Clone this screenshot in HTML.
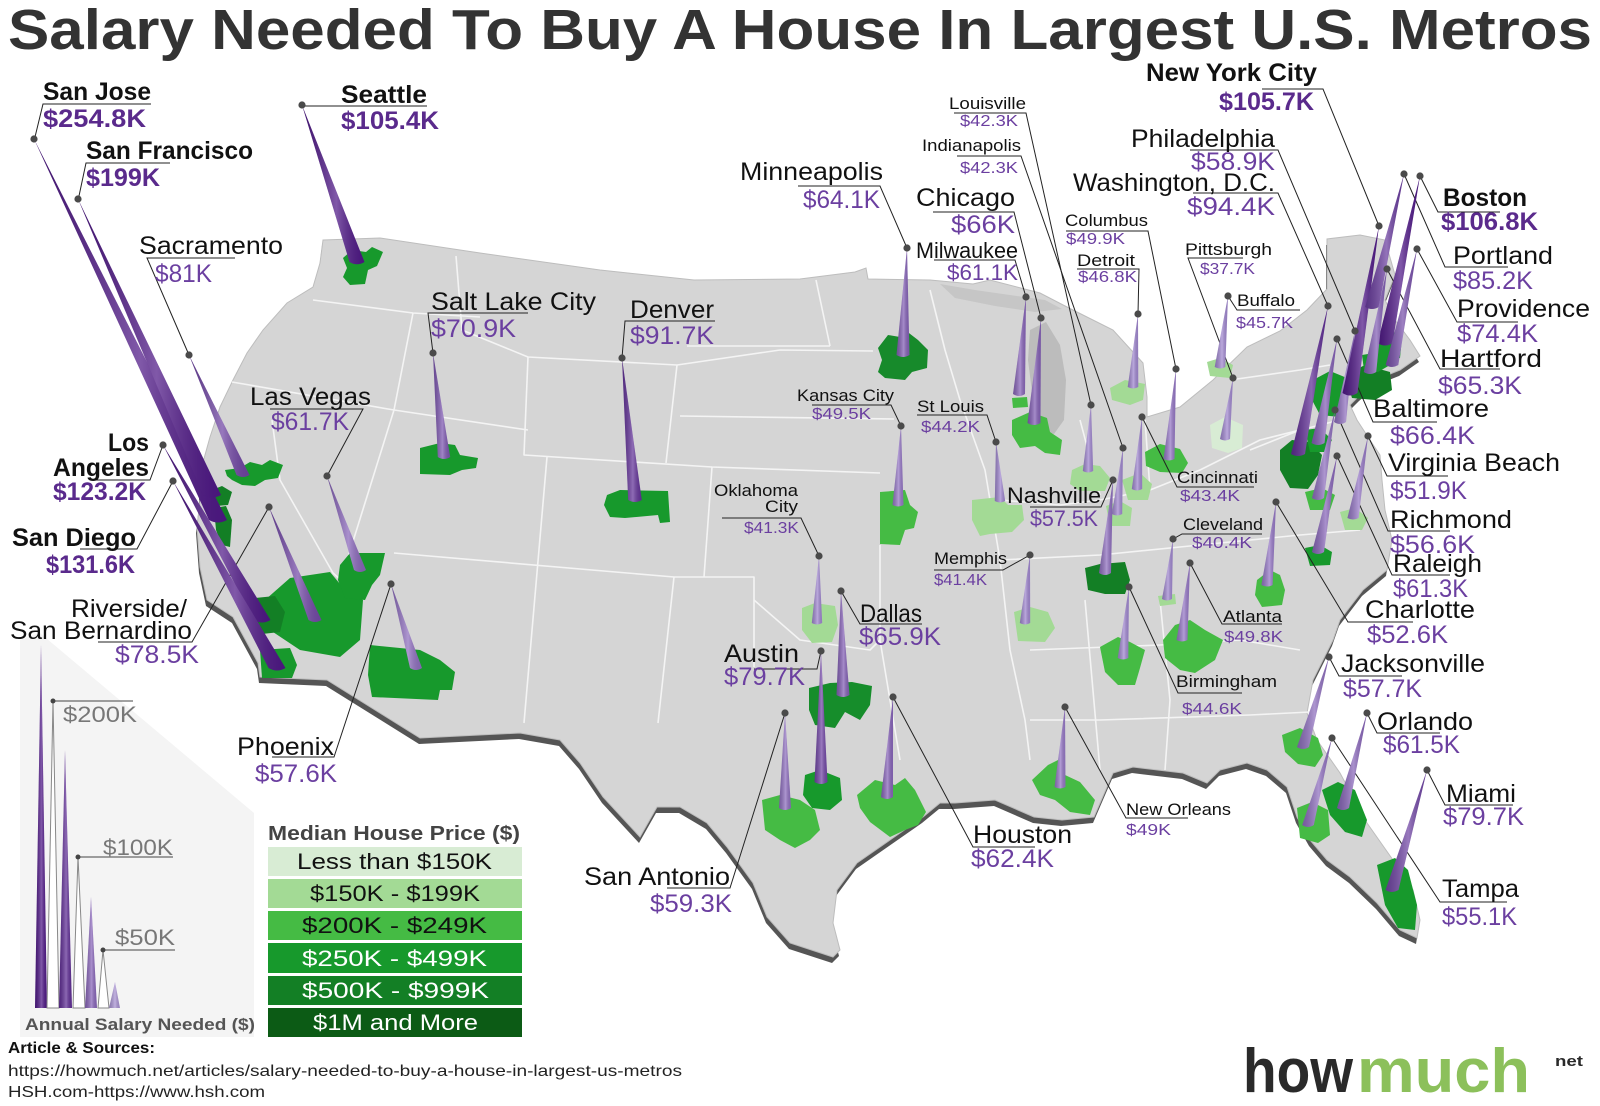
<!DOCTYPE html>
<html><head><meta charset="utf-8"><style>
html,body{margin:0;padding:0;background:#fff;}
svg{display:block;font-family:"Liberation Sans",Arial,sans-serif;}
.t{font-weight:bold;font-size:57px;fill:#333;}
.b{font-weight:bold;font-size:25px;fill:#111;}
.bv{font-weight:bold;font-size:25px;fill:#5a2a8c;}
.n{font-size:25px;fill:#111;}
.v{font-size:25px;fill:#6b3fa0;}
.m{font-size:22px;fill:#111;}
.mv{font-size:22px;fill:#6b3fa0;}
.s{font-size:17px;fill:#111;}
.sv{font-size:16px;fill:#6b3fa0;}
.lg{font-size:22px;fill:#111;}
.lw{font-size:22px;fill:#fff;}
.gk{font-size:22px;fill:#777;}
</style></head><body>
<svg width="1600" height="1106" viewBox="0 0 1600 1106" xmlns="http://www.w3.org/2000/svg">
<defs>
<linearGradient id="hl" x1="0" y1="0" x2="1" y2="0">
<stop offset="0" stop-color="#000" stop-opacity="0.18"/>
<stop offset="0.55" stop-color="#fff" stop-opacity="0.28"/>
<stop offset="1" stop-color="#000" stop-opacity="0.08"/>
</linearGradient>
</defs>
<rect width="1600" height="1106" fill="#fff"/>

<text class="t" x="8" y="49" textLength="1584" lengthAdjust="spacingAndGlyphs">Salary Needed To Buy A House In Largest U.S. Metros</text>

<!-- legend panel -->
<polygon points="20,640 40,633 254,813 254,1037 20,1037" fill="#f4f4f4"/>

<!-- map -->
<g id="map">
<polygon transform="translate(-1,6)" fill="#555" points="323,240 380,238 480,253 600,270 694,280 800,279 855,272 866,268 868,279 930,280 973,284 990,280 1040,293 1067,307 1113,330 1143,363 1147,397 1147,417 1180,407 1213,380 1247,347 1280,331 1307,310 1327,289 1327,239 1360,235 1385,240 1395,275 1385,300 1395,320 1410,340 1420,356 1400,370 1380,378 1360,395 1350,405 1357,420 1370,440 1380,455 1382,480 1385,510 1392,540 1387,570 1363,590 1340,620 1333,640 1313,680 1307,713 1317,740 1340,773 1367,823 1393,860 1413,890 1420,920 1417,938 1400,930 1377,903 1350,877 1327,860 1310,840 1297,817 1287,787 1267,770 1247,763 1220,770 1207,783 1183,773 1133,767 1113,773 1094,817 1062,820 1034,817 995,800 955,803 940,803 923,817 890,840 857,863 837,890 833,923 840,950 833,957 790,943 767,917 753,883 727,847 707,823 680,807 657,807 640,837 603,797 580,763 560,740 520,733 420,738 327,680 260,677 258,663 233,617 207,600 200,567 197,527 200,500 200,473 210,437 220,407 233,380 247,353 263,330 287,303 313,287 320,263"/>
<polygon fill="#d5d5d5" stroke="#bdbdbd" stroke-width="1" points="323,240 380,238 480,253 600,270 694,280 800,279 855,272 866,268 868,279 930,280 973,284 990,280 1040,293 1067,307 1113,330 1143,363 1147,397 1147,417 1180,407 1213,380 1247,347 1280,331 1307,310 1327,289 1327,239 1360,235 1385,240 1395,275 1385,300 1395,320 1410,340 1420,356 1400,370 1380,378 1360,395 1350,405 1357,420 1370,440 1380,455 1382,480 1385,510 1392,540 1387,570 1363,590 1340,620 1333,640 1313,680 1307,713 1317,740 1340,773 1367,823 1393,860 1413,890 1420,920 1417,938 1400,930 1377,903 1350,877 1327,860 1310,840 1297,817 1287,787 1267,770 1247,763 1220,770 1207,783 1183,773 1133,767 1113,773 1094,817 1062,820 1034,817 995,800 955,803 940,803 923,817 890,840 857,863 837,890 833,923 840,950 833,957 790,943 767,917 753,883 727,847 707,823 680,807 657,807 640,837 603,797 580,763 560,740 520,733 420,738 327,680 260,677 258,663 233,617 207,600 200,567 197,527 200,500 200,473 210,437 220,407 233,380 247,353 263,330 287,303 313,287 320,263"/>
<polygon fill="#c6c6c6" points="940,284 975,290 1010,295 1045,300 1062,309 1035,312 995,306 955,298"/>
<polygon fill="#bcbcbc" points="1030,330 1046,322 1060,345 1066,380 1064,420 1054,434 1040,430 1033,400 1028,360"/>
<g stroke="#f4f4f4" stroke-width="1.6" fill="none" stroke-linejoin="round">
<path d="M313,300 L413,313 L480,317"/>
<path d="M413,313 L394,410"/>
<path d="M232,382 L394,410 L528,430"/>
<path d="M394,410 L345,567"/>
<path d="M272,420 L280,480 L333,573 L352,590"/>
<path d="M456,256 L462,330 L528,357 L677,365 L780,350 L873,351"/>
<path d="M528,357 L524,455 L712,467 L880,473"/>
<path d="M547,457 L524,723"/>
<path d="M677,365 L666,463"/>
<path d="M712,467 L704,577"/>
<path d="M394,553 L674,577 L754,577 L754,667"/>
<path d="M674,577 L658,723"/>
<path d="M680,416 L894,419"/>
<path d="M687,346 L830,346"/>
<path d="M816,280 L830,346"/>
<path d="M754,600 L800,640 L870,650 L880,640"/>
<path d="M880,545 L880,640 L900,760"/>
<path d="M930,290 L945,350 L960,400 L985,470 L1000,560 L1010,650 L1025,720 L1030,760"/>
<path d="M1000,500 L1060,505 L1100,500 L1150,490 L1200,470 L1260,440 L1300,430"/>
<path d="M1000,560 L1100,555 L1200,545 L1300,535 L1360,530"/>
<path d="M1030,650 L1160,645 L1240,640 L1300,650"/>
<path d="M1085,600 L1100,770"/>
<path d="M1160,600 L1170,700 L1165,770"/>
<path d="M1030,720 L1100,720 L1250,715 L1310,712"/>
<path d="M1080,420 L1100,495"/>
<path d="M1145,420 L1150,490"/>
<path d="M1230,380 L1300,370 L1330,365"/>
<path d="M1250,450 L1300,430 L1340,420"/>
</g>
</g>

<!-- green metro regions -->
<g>
<polygon fill="#17992c" points="343,258 352,250 366,252 372,247 383,252 377,266 368,270 365,284 350,285 343,277 347,268"/>
<polygon fill="#17992c" points="225,470 240,468 250,462 262,465 270,460 283,465 278,478 265,480 255,486 242,485 232,480 227,476"/>
<polygon fill="#137f25" points="212,490 222,486 232,492 228,505 216,506"/>
<polygon fill="#137f25" points="214,508 226,506 232,520 230,547 222,545 216,530"/>
<polygon fill="#17992c" points="265,600 290,578 330,572 345,590 363,600 360,640 340,657 300,650 285,640 270,630"/>
<polygon fill="#137f25" points="255,598 275,596 285,612 280,632 262,634 256,620"/>
<polygon fill="#17992c" points="260,650 290,648 297,665 292,678 262,678"/>
<polygon fill="#17992c" points="340,565 350,553 385,553 380,575 372,585 365,600 345,598 338,580"/>
<polygon fill="#17992c" points="370,645 420,650 440,660 455,672 452,690 440,690 438,700 372,697 368,675"/>
<polygon fill="#17992c" points="420,448 440,443 455,445 460,455 478,458 476,468 462,470 450,475 420,474"/>
<polygon fill="#17992c" points="607,495 620,490 668,491 670,522 660,523 658,515 625,518 610,517 604,505"/>
<polygon fill="#178a2b" points="878,348 888,335 900,337 905,330 918,340 928,350 927,368 912,372 905,380 885,378 878,372 882,360"/>
<polygon fill="#45bb44" points="880,492 905,490 910,505 918,512 914,528 905,530 900,545 880,544 880,520"/>
<polygon fill="#a3da95" points="972,500 1000,497 1008,505 1022,505 1024,520 1012,532 990,534 980,536 972,520"/>
<polygon fill="#45bb44" points="1012,420 1030,412 1047,418 1050,432 1062,440 1060,455 1045,453 1035,446 1020,448 1012,435"/>
<polygon fill="#45bb44" points="1012,398 1027,397 1028,407 1013,408"/>
<polygon fill="#a3da95" points="1072,470 1085,464 1100,466 1110,478 1105,491 1080,491 1070,484"/>
<polygon fill="#a3da95" points="1106,506 1120,501 1132,508 1130,526 1110,526"/>
<polygon fill="#45bb44" points="1145,452 1160,444 1180,449 1188,463 1182,473 1160,472 1146,466"/>
<polygon fill="#a3da95" points="1110,388 1125,380 1145,384 1143,400 1130,405 1112,400"/>
<polygon fill="#a3da95" points="1122,480 1140,473 1152,484 1148,500 1128,500"/>
<polygon fill="#d8ecd4" points="1210,425 1225,417 1243,425 1242,448 1228,453 1212,448"/>
<polygon fill="#a3da95" points="1207,362 1220,358 1233,365 1230,378 1210,376"/>
<polygon fill="#137f25" points="1085,568 1100,564 1125,562 1130,580 1125,594 1105,594 1088,590"/>
<polygon fill="#a3da95" points="1014,612 1030,607 1048,612 1055,628 1045,642 1018,641"/>
<polygon fill="#a3da95" points="802,608 815,603 835,606 838,625 832,642 812,643 802,630"/>
<polygon fill="#168d2b" points="809,688 830,683 852,682 872,686 870,705 860,720 845,712 835,728 815,725 809,710"/>
<polygon fill="#17992c" points="805,775 820,770 840,778 842,800 830,810 812,808 803,795"/>
<polygon fill="#45bb44" points="762,800 780,795 800,800 815,810 820,830 810,840 795,848 780,840 765,830"/>
<polygon fill="#45bb44" points="857,795 875,780 895,785 905,778 915,790 926,812 918,825 905,830 890,837 870,822 860,808"/>
<polygon fill="#45bb44" points="1032,780 1048,765 1058,760 1065,775 1080,782 1095,800 1090,815 1070,812 1055,800 1040,795"/>
<polygon fill="#45bb44" points="1100,647 1118,637 1130,642 1145,650 1140,668 1135,685 1118,685 1105,672"/>
<polygon fill="#45bb44" points="1163,640 1175,625 1190,620 1205,630 1223,640 1215,660 1195,673 1180,670 1165,658"/>
<polygon fill="#a3da95" points="1158,596 1175,594 1176,604 1160,606"/>
<polygon fill="#45bb44" points="1257,580 1270,570 1280,575 1285,590 1282,605 1262,607 1255,595"/>
<polygon fill="#17992c" points="1305,548 1320,545 1332,552 1330,565 1310,566"/>
<polygon fill="#45bb44" points="1305,492 1322,488 1335,495 1330,510 1310,510"/>
<polygon fill="#a3da95" points="1340,512 1355,508 1368,518 1362,530 1345,530"/>
<polygon fill="#137f25" points="1280,450 1292,440 1310,442 1322,455 1318,475 1308,489 1290,488 1280,470"/>
<polygon fill="#17992c" points="1305,430 1320,428 1332,440 1325,452 1310,452"/>
<polygon fill="#17992c" points="1313,380 1330,371 1347,378 1348,400 1340,417 1320,415 1312,400"/>
<polygon fill="#137f25" points="1345,375 1365,365 1390,372 1392,390 1375,400 1352,398"/>
<polygon fill="#17992c" points="1372,335 1388,328 1402,338 1400,358 1385,362 1372,352"/>
<polygon fill="#17992c" points="1362,355 1380,352 1390,365 1378,372 1364,370"/>
<polygon fill="#45bb44" points="1282,735 1300,728 1318,738 1323,755 1315,767 1298,764 1285,752"/>
<polygon fill="#17992c" points="1322,790 1338,782 1355,790 1367,820 1362,837 1345,832 1330,815"/>
<polygon fill="#45bb44" points="1297,808 1312,802 1328,810 1330,835 1318,843 1300,838"/>
<polygon fill="#17992c" points="1377,865 1395,858 1408,870 1417,905 1415,930 1398,928 1385,905"/>
</g>

<!-- leader lines and underlines -->
<g stroke="#222" stroke-width="1" fill="none">
<path d="M151,104 L43,104 L35,137"/>
<path d="M170,163 L86,163 L79,196"/>
<path d="M302,106 L427,106"/>
<path d="M235,258 L147,258 L189,355"/>
<path d="M270,409 L363,409 L327,476"/>
<path d="M95,480 L150,480 L163,445"/>
<path d="M80,549 L137,549 L173,481"/>
<path d="M98,642 L192,642 L269,507"/>
<path d="M272,757 L334,757 L391,584"/>
<path d="M528,313 L428,313 L433,353"/>
<path d="M715,321 L625,321 L622,358"/>
<path d="M798,186 L880,186 L907,248"/>
<path d="M933,212 L1014,212 L1041,318"/>
<path d="M934,260 L1015,260 L1026,297"/>
<path d="M954,113 L1026,113 L1091,405"/>
<path d="M957,156 L1021,156 L1123,448"/>
<path d="M1066,231 L1148,231 L1176,369"/>
<path d="M1077,269 L1139,269 L1138,314"/>
<path d="M1243,258 L1188,258 L1233,378"/>
<path d="M1300,310 L1237,310 L1228,296"/>
<path d="M812,405 L891,405 L901,426"/>
<path d="M917,415 L987,415 L996,442"/>
<path d="M722,518 L801,518 L819,556"/>
<path d="M934,570 L1003,570 L1030,555"/>
<path d="M1030,507 L1101,507 L1113,480"/>
<path d="M1254,487 L1177,487 L1142,417"/>
<path d="M1262,534 L1182,534 L1173,539"/>
<path d="M1282,624 L1222,624 L1190,563"/>
<path d="M1242,693 L1178,693 L1129,587"/>
<path d="M1188,818 L1126,818 L1065,707"/>
<path d="M922,624 L860,624 L841,591"/>
<path d="M754,669 L817,669 L821,651"/>
<path d="M667,888 L730,888 L785,713"/>
<path d="M1035,847 L973,847 L893,697"/>
<path d="M1262,89 L1323,89 L1379,226"/>
<path d="M1190,150 L1278,150 L1355,331"/>
<path d="M1193,193 L1278,193 L1328,306"/>
<path d="M1500,212 L1438,212 L1420,176"/>
<path d="M1508,267 L1445,267 L1404,174"/>
<path d="M1518,322 L1457,322 L1417,249"/>
<path d="M1500,369 L1440,369 L1387,269"/>
<path d="M1437,422 L1373,422 L1337,339"/>
<path d="M1448,476 L1387,476 L1368,436"/>
<path d="M1450,531 L1388,531 L1335,410"/>
<path d="M1450,575 L1392,575 L1337,456"/>
<path d="M1413,622 L1348,622 L1276,502"/>
<path d="M1402,676 L1339,676 L1329,657"/>
<path d="M1440,733 L1377,733 L1367,713"/>
<path d="M1513,805 L1445,805 L1427,770"/>
<path d="M1507,902 L1440,902 L1332,738"/>
</g>

<!-- cones -->
<g>
<path fill="#4f1887" d="M34 139 L209 520 Q218 525 227 520Z"/><path fill="url(#hl)" d="M34 139 L209 520 Q218 525 227 520Z"/>
<path fill="#4f1887" d="M78 199 L203 495 Q212 500 221 495Z"/><path fill="url(#hl)" d="M78 199 L203 495 Q212 500 221 495Z"/>
<path fill="#4f1887" d="M302 105 L349.5 262 Q357 266.5 364.5 262Z"/><path fill="url(#hl)" d="M302 105 L349.5 262 Q357 266.5 364.5 262Z"/>
<path fill="#6f44a3" d="M189 355 L236.5 475 Q243 479 249.5 475Z"/><path fill="url(#hl)" d="M189 355 L236.5 475 Q243 479 249.5 475Z"/>
<path fill="#4f1887" d="M163 445 L253.5 620 Q262 625 270.5 620Z"/><path fill="url(#hl)" d="M163 445 L253.5 620 Q262 625 270.5 620Z"/>
<path fill="#4f1887" d="M173 481 L268.5 668 Q277 673 285.5 668Z"/><path fill="url(#hl)" d="M173 481 L268.5 668 Q277 673 285.5 668Z"/>
<path fill="#7349a7" d="M269 507 L308.5 620 Q315 624 321.5 620Z"/><path fill="url(#hl)" d="M269 507 L308.5 620 Q315 624 321.5 620Z"/>
<path fill="#8865b9" d="M327 476 L354 570 Q360 574 366 570Z"/><path fill="url(#hl)" d="M327 476 L354 570 Q360 574 366 570Z"/>
<path fill="#8e6ebe" d="M391 584 L410 668 Q416 672 422 668Z"/><path fill="url(#hl)" d="M391 584 L410 668 Q416 672 422 668Z"/>
<path fill="#7c56af" d="M433 353 L437.8 457 Q444 461 450.2 457Z"/><path fill="url(#hl)" d="M433 353 L437.8 457 Q444 461 450.2 457Z"/>
<path fill="#623298" d="M622 358 L628.2 500 Q635 504 641.8 500Z"/><path fill="url(#hl)" d="M622 358 L628.2 500 Q635 504 641.8 500Z"/>
<path fill="#835fb5" d="M907 248 L896.5 355 Q903 359 909.5 355Z"/><path fill="url(#hl)" d="M907 248 L896.5 355 Q903 359 909.5 355Z"/>
<path fill="#9577c5" d="M901 426 L892.5 505 Q898 508 903.5 505Z"/><path fill="url(#hl)" d="M901 426 L892.5 505 Q898 508 903.5 505Z"/>
<path fill="#a087cf" d="M996 442 L994.8 501 Q1000 504 1005.2 501Z"/><path fill="url(#hl)" d="M996 442 L994.8 501 Q1000 504 1005.2 501Z"/>
<path fill="#835fb5" d="M1041 318 L1027.5 423 Q1034 427 1040.5 423Z"/><path fill="url(#hl)" d="M1041 318 L1027.5 423 Q1034 427 1040.5 423Z"/>
<path fill="#8865b9" d="M1026 297 L1013 394 Q1019 398 1025 394Z"/><path fill="url(#hl)" d="M1026 297 L1013 394 Q1019 398 1025 394Z"/>
<path fill="#a087cf" d="M1091 405 L1082.8 471 Q1088 474 1093.2 471Z"/><path fill="url(#hl)" d="M1091 405 L1082.8 471 Q1088 474 1093.2 471Z"/>
<path fill="#a087cf" d="M1123 448 L1111.8 514 Q1117 517 1122.2 514Z"/><path fill="url(#hl)" d="M1123 448 L1111.8 514 Q1117 517 1122.2 514Z"/>
<path fill="#9577c5" d="M1176 369 L1163.5 459 Q1169 462 1174.5 459Z"/><path fill="url(#hl)" d="M1176 369 L1163.5 459 Q1169 462 1174.5 459Z"/>
<path fill="#a087cf" d="M1138 314 L1127.7 387 Q1133 390 1138.3 387Z"/><path fill="url(#hl)" d="M1138 314 L1127.7 387 Q1133 390 1138.3 387Z"/>
<path fill="#a087cf" d="M1142 417 L1131.8 489 Q1137 492 1142.2 489Z"/><path fill="url(#hl)" d="M1142 417 L1131.8 489 Q1137 492 1142.2 489Z"/>
<path fill="#a087cf" d="M1233 378 L1220 439 Q1225 442 1230 439Z"/><path fill="url(#hl)" d="M1233 378 L1220 439 Q1225 442 1230 439Z"/>
<path fill="#a087cf" d="M1228 296 L1214.7 367 Q1220 370 1225.3 367Z"/><path fill="url(#hl)" d="M1228 296 L1214.7 367 Q1220 370 1225.3 367Z"/>
<path fill="#8e6ebe" d="M1113 480 L1099 573 Q1105 577 1111 573Z"/><path fill="url(#hl)" d="M1113 480 L1099 573 Q1105 577 1111 573Z"/>
<path fill="#a087cf" d="M1030 555 L1019.8 623 Q1025 626 1030.2 623Z"/><path fill="url(#hl)" d="M1030 555 L1019.8 623 Q1025 626 1030.2 623Z"/>
<path fill="#a087cf" d="M819 556 L811.8 623 Q817 626 822.2 623Z"/><path fill="url(#hl)" d="M819 556 L811.8 623 Q817 626 822.2 623Z"/>
<path fill="#835fb5" d="M841 591 L836.5 695 Q843 699 849.5 695Z"/><path fill="url(#hl)" d="M841 591 L836.5 695 Q843 699 849.5 695Z"/>
<path fill="#7146a5" d="M821 651 L814.5 782 Q821 786 827.5 782Z"/><path fill="url(#hl)" d="M821 651 L814.5 782 Q821 786 827.5 782Z"/>
<path fill="#8e6ebe" d="M785 713 L779 808 Q785 812 791 808Z"/><path fill="url(#hl)" d="M785 713 L779 808 Q785 812 791 808Z"/>
<path fill="#8865b9" d="M893 697 L881 797 Q887 801 893 797Z"/><path fill="url(#hl)" d="M893 697 L881 797 Q887 801 893 797Z"/>
<path fill="#9577c5" d="M1065 707 L1054.5 787 Q1060 790 1065.5 787Z"/><path fill="url(#hl)" d="M1065 707 L1054.5 787 Q1060 790 1065.5 787Z"/>
<path fill="#a087cf" d="M1129 587 L1117.7 658 Q1123 661 1128.3 658Z"/><path fill="url(#hl)" d="M1129 587 L1117.7 658 Q1123 661 1128.3 658Z"/>
<path fill="#9577c5" d="M1190 563 L1176.5 640 Q1182 643 1187.5 640Z"/><path fill="url(#hl)" d="M1190 563 L1176.5 640 Q1182 643 1187.5 640Z"/>
<path fill="#a087cf" d="M1173 539 L1162 599 Q1167 602 1172 599Z"/><path fill="url(#hl)" d="M1173 539 L1162 599 Q1167 602 1172 599Z"/>
<path fill="#9577c5" d="M1276 502 L1261.4 585 Q1267 588 1272.6 585Z"/><path fill="url(#hl)" d="M1276 502 L1261.4 585 Q1267 588 1272.6 585Z"/>
<path fill="#8865b9" d="M1337 456 L1312 552 Q1318 556 1324 552Z"/><path fill="url(#hl)" d="M1337 456 L1312 552 Q1318 556 1324 552Z"/>
<path fill="#8e6ebe" d="M1335 410 L1312 498 Q1318 502 1324 498Z"/><path fill="url(#hl)" d="M1335 410 L1312 498 Q1318 502 1324 498Z"/>
<path fill="#9577c5" d="M1368 436 L1347.4 518 Q1353 521 1358.6 518Z"/><path fill="url(#hl)" d="M1368 436 L1347.4 518 Q1353 521 1358.6 518Z"/>
<path fill="#5f2d95" d="M1328 306 L1291 454 Q1298 458 1305 454Z"/><path fill="url(#hl)" d="M1328 306 L1291 454 Q1298 458 1305 454Z"/>
<path fill="#835fb5" d="M1337 339 L1311.5 443 Q1318 447 1324.5 443Z"/><path fill="url(#hl)" d="M1337 339 L1311.5 443 Q1318 447 1324.5 443Z"/>
<path fill="#8e6ebe" d="M1355 331 L1334 422 Q1340 426 1346 422Z"/><path fill="url(#hl)" d="M1355 331 L1334 422 Q1340 426 1346 422Z"/>
<path fill="#4f1887" d="M1379 226 L1342.5 393 Q1350 398 1357.5 393Z"/><path fill="url(#hl)" d="M1379 226 L1342.5 393 Q1350 398 1357.5 393Z"/>
<path fill="#4f1887" d="M1420 176 L1377.5 343 Q1385 348 1392.5 343Z"/><path fill="url(#hl)" d="M1420 176 L1377.5 343 Q1385 348 1392.5 343Z"/>
<path fill="#6a3d9f" d="M1404 174 L1365.2 307 Q1372 311 1378.8 307Z"/><path fill="url(#hl)" d="M1404 174 L1365.2 307 Q1372 311 1378.8 307Z"/>
<path fill="#7850ab" d="M1417 249 L1385.7 365 Q1392 369 1398.3 365Z"/><path fill="url(#hl)" d="M1417 249 L1385.7 365 Q1392 369 1398.3 365Z"/>
<path fill="#835fb5" d="M1387 269 L1363.8 372 Q1370 376 1376.2 372Z"/><path fill="url(#hl)" d="M1387 269 L1363.8 372 Q1370 376 1376.2 372Z"/>
<path fill="#8e6ebe" d="M1329 657 L1297 747 Q1303 751 1309 747Z"/><path fill="url(#hl)" d="M1329 657 L1297 747 Q1303 751 1309 747Z"/>
<path fill="#8865b9" d="M1367 713 L1337 808 Q1343 812 1349 808Z"/><path fill="url(#hl)" d="M1367 713 L1337 808 Q1343 812 1349 808Z"/>
<path fill="#8e6ebe" d="M1332 738 L1302.2 825 Q1308 829 1313.8 825Z"/><path fill="url(#hl)" d="M1332 738 L1302.2 825 Q1308 829 1313.8 825Z"/>
<path fill="#7146a5" d="M1427 770 L1385.5 890 Q1392 894 1398.5 890Z"/><path fill="url(#hl)" d="M1427 770 L1385.5 890 Q1392 894 1398.5 890Z"/>
</g>

<!-- pins -->
<g fill="#4a4a4a">
<circle cx="34" cy="139" r="3.6"/><circle cx="78" cy="199" r="3.6"/><circle cx="302" cy="105" r="3.6"/>
<circle cx="189" cy="355" r="3.6"/><circle cx="163" cy="445" r="3.6"/><circle cx="173" cy="481" r="3.6"/>
<circle cx="269" cy="507" r="3.6"/><circle cx="327" cy="476" r="3.6"/><circle cx="391" cy="584" r="3.6"/>
<circle cx="433" cy="353" r="3.6"/><circle cx="622" cy="358" r="3.6"/><circle cx="907" cy="248" r="3.6"/>
<circle cx="901" cy="426" r="3.6"/><circle cx="996" cy="442" r="3.6"/><circle cx="1041" cy="318" r="3.6"/>
<circle cx="1026" cy="297" r="3.6"/><circle cx="1091" cy="405" r="3.6"/><circle cx="1123" cy="448" r="3.6"/>
<circle cx="1176" cy="369" r="3.6"/><circle cx="1138" cy="314" r="3.6"/><circle cx="1142" cy="417" r="3.6"/>
<circle cx="1233" cy="378" r="3.6"/><circle cx="1228" cy="296" r="3.6"/><circle cx="1113" cy="480" r="3.6"/>
<circle cx="1030" cy="555" r="3.6"/><circle cx="819" cy="556" r="3.6"/><circle cx="841" cy="591" r="3.6"/>
<circle cx="821" cy="651" r="3.6"/><circle cx="785" cy="713" r="3.6"/><circle cx="893" cy="697" r="3.6"/>
<circle cx="1065" cy="707" r="3.6"/><circle cx="1129" cy="587" r="3.6"/><circle cx="1190" cy="563" r="3.6"/>
<circle cx="1173" cy="539" r="3.6"/><circle cx="1276" cy="502" r="3.6"/><circle cx="1337" cy="456" r="3.6"/>
<circle cx="1335" cy="410" r="3.6"/><circle cx="1368" cy="436" r="3.6"/><circle cx="1328" cy="306" r="3.6"/>
<circle cx="1337" cy="339" r="3.6"/><circle cx="1355" cy="331" r="3.6"/><circle cx="1379" cy="226" r="3.6"/>
<circle cx="1420" cy="176" r="3.6"/><circle cx="1404" cy="174" r="3.6"/><circle cx="1417" cy="249" r="3.6"/>
<circle cx="1387" cy="269" r="3.6"/><circle cx="1329" cy="657" r="3.6"/><circle cx="1367" cy="713" r="3.6"/>
<circle cx="1332" cy="738" r="3.6"/><circle cx="1427" cy="770" r="3.6"/>
</g>

<!-- labels -->
<g>
<text class="b" x="43" y="100" textLength="108" lengthAdjust="spacingAndGlyphs">San Jose</text>
<text class="bv" x="43" y="127" textLength="103" lengthAdjust="spacingAndGlyphs">$254.8K</text>
<text class="b" x="86" y="159" textLength="167" lengthAdjust="spacingAndGlyphs">San Francisco</text>
<text class="bv" x="86" y="186" textLength="74" lengthAdjust="spacingAndGlyphs">$199K</text>
<text class="b" x="341" y="103" textLength="86" lengthAdjust="spacingAndGlyphs">Seattle</text>
<text class="bv" x="341" y="129" textLength="98" lengthAdjust="spacingAndGlyphs">$105.4K</text>
<text class="b" x="1146" y="81" textLength="171" lengthAdjust="spacingAndGlyphs">New York City</text>
<text class="bv" x="1219" y="110" textLength="95" lengthAdjust="spacingAndGlyphs">$105.7K</text>
<text class="b" x="1443" y="206" textLength="84" lengthAdjust="spacingAndGlyphs">Boston</text>
<text class="bv" x="1441" y="230" textLength="97" lengthAdjust="spacingAndGlyphs">$106.8K</text>
<text class="b" x="108" y="451" textLength="41" lengthAdjust="spacingAndGlyphs">Los</text>
<text class="b" x="53" y="476" textLength="96" lengthAdjust="spacingAndGlyphs">Angeles</text>
<text class="bv" x="53" y="500" textLength="93" lengthAdjust="spacingAndGlyphs">$123.2K</text>
<text class="b" x="12" y="546" textLength="124" lengthAdjust="spacingAndGlyphs">San Diego</text>
<text class="bv" x="46" y="573" textLength="89" lengthAdjust="spacingAndGlyphs">$131.6K</text>

<text class="n" x="139" y="254" textLength="144" lengthAdjust="spacingAndGlyphs">Sacramento</text>
<text class="v" x="155" y="282" textLength="57" lengthAdjust="spacingAndGlyphs">$81K</text>
<text class="n" x="250" y="405" textLength="121" lengthAdjust="spacingAndGlyphs">Las Vegas</text>
<text class="v" x="271" y="430" textLength="78" lengthAdjust="spacingAndGlyphs">$61.7K</text>
<text class="n" x="71" y="617" textLength="116" lengthAdjust="spacingAndGlyphs">Riverside/</text>
<text class="n" x="10" y="639" textLength="182" lengthAdjust="spacingAndGlyphs">San Bernardino</text>
<text class="v" x="115" y="663" textLength="84" lengthAdjust="spacingAndGlyphs">$78.5K</text>
<text class="n" x="237" y="755" textLength="97" lengthAdjust="spacingAndGlyphs">Phoenix</text>
<text class="v" x="255" y="782" textLength="82" lengthAdjust="spacingAndGlyphs">$57.6K</text>
<text class="n" x="431" y="310" textLength="165" lengthAdjust="spacingAndGlyphs">Salt Lake City</text>
<text class="v" x="431" y="337" textLength="85" lengthAdjust="spacingAndGlyphs">$70.9K</text>
<text class="n" x="630" y="318" textLength="84" lengthAdjust="spacingAndGlyphs">Denver</text>
<text class="v" x="630" y="344" textLength="84" lengthAdjust="spacingAndGlyphs">$91.7K</text>
<text class="n" x="740" y="180" textLength="143" lengthAdjust="spacingAndGlyphs">Minneapolis</text>
<text class="v" x="803" y="208" textLength="77" lengthAdjust="spacingAndGlyphs">$64.1K</text>
<text class="n" x="916" y="206" textLength="99" lengthAdjust="spacingAndGlyphs">Chicago</text>
<text class="v" x="951" y="233" textLength="64" lengthAdjust="spacingAndGlyphs">$66K</text>
<text class="m" x="916" y="258" textLength="102" lengthAdjust="spacingAndGlyphs">Milwaukee</text>
<text class="mv" x="947" y="280" textLength="71" lengthAdjust="spacingAndGlyphs">$61.1K</text>
<text class="n" x="1131" y="147" textLength="144" lengthAdjust="spacingAndGlyphs">Philadelphia</text>
<text class="v" x="1191" y="170" textLength="84" lengthAdjust="spacingAndGlyphs">$58.9K</text>
<text class="n" x="1073" y="191" textLength="202" lengthAdjust="spacingAndGlyphs">Washington, D.C.</text>
<text class="v" x="1187" y="215" textLength="88" lengthAdjust="spacingAndGlyphs">$94.4K</text>
<text class="n" x="1453" y="264" textLength="100" lengthAdjust="spacingAndGlyphs">Portland</text>
<text class="v" x="1453" y="289" textLength="80" lengthAdjust="spacingAndGlyphs">$85.2K</text>
<text class="n" x="1457" y="317" textLength="133" lengthAdjust="spacingAndGlyphs">Providence</text>
<text class="v" x="1457" y="342" textLength="81" lengthAdjust="spacingAndGlyphs">$74.4K</text>
<text class="n" x="1440" y="367" textLength="102" lengthAdjust="spacingAndGlyphs">Hartford</text>
<text class="v" x="1438" y="394" textLength="84" lengthAdjust="spacingAndGlyphs">$65.3K</text>
<text class="n" x="1373" y="417" textLength="116" lengthAdjust="spacingAndGlyphs">Baltimore</text>
<text class="v" x="1390" y="444" textLength="85" lengthAdjust="spacingAndGlyphs">$66.4K</text>
<text class="n" x="1388" y="471" textLength="172" lengthAdjust="spacingAndGlyphs">Virginia Beach</text>
<text class="v" x="1390" y="499" textLength="77" lengthAdjust="spacingAndGlyphs">$51.9K</text>
<text class="n" x="1390" y="528" textLength="122" lengthAdjust="spacingAndGlyphs">Richmond</text>
<text class="v" x="1390" y="553" textLength="85" lengthAdjust="spacingAndGlyphs">$56.6K</text>
<text class="n" x="1393" y="572" textLength="89" lengthAdjust="spacingAndGlyphs">Raleigh</text>
<text class="v" x="1393" y="597" textLength="75" lengthAdjust="spacingAndGlyphs">$61.3K</text>
<text class="n" x="1365" y="618" textLength="110" lengthAdjust="spacingAndGlyphs">Charlotte</text>
<text class="v" x="1367" y="643" textLength="81" lengthAdjust="spacingAndGlyphs">$52.6K</text>
<text class="n" x="1341" y="672" textLength="144" lengthAdjust="spacingAndGlyphs">Jacksonville</text>
<text class="v" x="1343" y="697" textLength="79" lengthAdjust="spacingAndGlyphs">$57.7K</text>
<text class="n" x="1377" y="730" textLength="96" lengthAdjust="spacingAndGlyphs">Orlando</text>
<text class="v" x="1383" y="753" textLength="77" lengthAdjust="spacingAndGlyphs">$61.5K</text>
<text class="n" x="1446" y="802" textLength="70" lengthAdjust="spacingAndGlyphs">Miami</text>
<text class="v" x="1443" y="825" textLength="81" lengthAdjust="spacingAndGlyphs">$79.7K</text>
<text class="n" x="1442" y="897" textLength="77" lengthAdjust="spacingAndGlyphs">Tampa</text>
<text class="v" x="1442" y="925" textLength="75" lengthAdjust="spacingAndGlyphs">$55.1K</text>
<text class="n" x="973" y="843" textLength="99" lengthAdjust="spacingAndGlyphs">Houston</text>
<text class="v" x="971" y="867" textLength="83" lengthAdjust="spacingAndGlyphs">$62.4K</text>
<text class="n" x="584" y="885" textLength="146" lengthAdjust="spacingAndGlyphs">San Antonio</text>
<text class="v" x="650" y="912" textLength="82" lengthAdjust="spacingAndGlyphs">$59.3K</text>
<text class="n" x="724" y="662" textLength="75" lengthAdjust="spacingAndGlyphs">Austin</text>
<text class="v" x="724" y="685" textLength="81" lengthAdjust="spacingAndGlyphs">$79.7K</text>
<text class="n" x="860" y="622" textLength="62" lengthAdjust="spacingAndGlyphs">Dallas</text>
<text class="v" x="859" y="645" textLength="82" lengthAdjust="spacingAndGlyphs">$65.9K</text>
<text class="m" x="1007" y="503" textLength="94" lengthAdjust="spacingAndGlyphs">Nashville</text>
<text class="mv" x="1030" y="526" textLength="68" lengthAdjust="spacingAndGlyphs">$57.5K</text>

<text class="s" x="949" y="109" textLength="77" lengthAdjust="spacingAndGlyphs">Louisville</text>
<text class="sv" x="960" y="126" textLength="58" lengthAdjust="spacingAndGlyphs">$42.3K</text>
<text class="s" x="922" y="151" textLength="99" lengthAdjust="spacingAndGlyphs">Indianapolis</text>
<text class="sv" x="960" y="173" textLength="58" lengthAdjust="spacingAndGlyphs">$42.3K</text>
<text class="s" x="1065" y="226" textLength="83" lengthAdjust="spacingAndGlyphs">Columbus</text>
<text class="sv" x="1066" y="244" textLength="59" lengthAdjust="spacingAndGlyphs">$49.9K</text>
<text class="s" x="1077" y="266" textLength="58" lengthAdjust="spacingAndGlyphs">Detroit</text>
<text class="sv" x="1078" y="282" textLength="59" lengthAdjust="spacingAndGlyphs">$46.8K</text>
<text class="s" x="1185" y="255" textLength="87" lengthAdjust="spacingAndGlyphs">Pittsburgh</text>
<text class="sv" x="1200" y="274" textLength="55" lengthAdjust="spacingAndGlyphs">$37.7K</text>
<text class="s" x="1237" y="306" textLength="58" lengthAdjust="spacingAndGlyphs">Buffalo</text>
<text class="sv" x="1236" y="328" textLength="57" lengthAdjust="spacingAndGlyphs">$45.7K</text>
<text class="s" x="797" y="401" textLength="97" lengthAdjust="spacingAndGlyphs">Kansas City</text>
<text class="sv" x="812" y="419" textLength="59" lengthAdjust="spacingAndGlyphs">$49.5K</text>
<text class="s" x="917" y="412" textLength="67" lengthAdjust="spacingAndGlyphs">St Louis</text>
<text class="sv" x="921" y="432" textLength="59" lengthAdjust="spacingAndGlyphs">$44.2K</text>
<text class="s" x="714" y="496" textLength="84" lengthAdjust="spacingAndGlyphs">Oklahoma</text>
<text class="s" x="765" y="512" textLength="33" lengthAdjust="spacingAndGlyphs">City</text>
<text class="sv" x="744" y="533" textLength="55" lengthAdjust="spacingAndGlyphs">$41.3K</text>
<text class="s" x="934" y="564" textLength="73" lengthAdjust="spacingAndGlyphs">Memphis</text>
<text class="sv" x="934" y="585" textLength="53" lengthAdjust="spacingAndGlyphs">$41.4K</text>
<text class="s" x="1177" y="483" textLength="81" lengthAdjust="spacingAndGlyphs">Cincinnati</text>
<text class="sv" x="1180" y="501" textLength="60" lengthAdjust="spacingAndGlyphs">$43.4K</text>
<text class="s" x="1183" y="530" textLength="80" lengthAdjust="spacingAndGlyphs">Cleveland</text>
<text class="sv" x="1192" y="548" textLength="60" lengthAdjust="spacingAndGlyphs">$40.4K</text>
<text class="s" x="1223" y="622" textLength="59" lengthAdjust="spacingAndGlyphs">Atlanta</text>
<text class="sv" x="1224" y="642" textLength="59" lengthAdjust="spacingAndGlyphs">$49.8K</text>
<text class="s" x="1176" y="687" textLength="101" lengthAdjust="spacingAndGlyphs">Birmingham</text>
<text class="sv" x="1182" y="714" textLength="60" lengthAdjust="spacingAndGlyphs">$44.6K</text>
<text class="s" x="1126" y="815" textLength="105" lengthAdjust="spacingAndGlyphs">New Orleans</text>
<text class="sv" x="1126" y="835" textLength="45" lengthAdjust="spacingAndGlyphs">$49K</text>
</g>

<!-- salary legend -->
<g>
<path fill="#4f1887" d="M41 645 L35 1008 L47 1008Z"/><path fill="url(#hl)" d="M41 645 L35 1008 L47 1008Z"/>
<path fill="#fff" stroke="#888" stroke-width="1" d="M53 701 L47 1008 L59 1008Z"/>
<path fill="#5f2d95" d="M65 750 L59 1008 L72 1008Z"/><path fill="url(#hl)" d="M65 750 L59 1008 L72 1008Z"/>
<path fill="#fff" stroke="#888" stroke-width="1" d="M78 857 L73 1008 L85 1008Z"/>
<path fill="#8865b9" d="M91 897 L85 1008 L97 1008Z"/><path fill="url(#hl)" d="M91 897 L85 1008 L97 1008Z"/>
<path fill="#fff" stroke="#888" stroke-width="1" d="M103 950 L98 1008 L109 1008Z"/>
<path fill="#a993d3" d="M115 982 L109 1008 L120 1008Z"/><path fill="url(#hl)" d="M115 982 L109 1008 L120 1008Z"/>
<g stroke="#444" stroke-width="1"><line x1="53" y1="701" x2="133" y2="701"/><line x1="78" y1="857" x2="173" y2="857"/><line x1="103" y1="950" x2="175" y2="950"/></g>
<g fill="#444"><circle cx="53" cy="701" r="2.5"/><circle cx="78" cy="857" r="2.5"/><circle cx="103" cy="950" r="2.5"/></g>
<text class="gk" x="63" y="722" textLength="74" lengthAdjust="spacingAndGlyphs">$200K</text>
<text class="gk" x="103" y="855" textLength="70" lengthAdjust="spacingAndGlyphs">$100K</text>
<text class="gk" x="115" y="945" textLength="60" lengthAdjust="spacingAndGlyphs">$50K</text>
<text x="25" y="1030" textLength="230" lengthAdjust="spacingAndGlyphs" style="font-weight:bold;font-size:17px;fill:#555">Annual Salary Needed ($)</text>
</g>

<!-- house price legend -->
<g>
<text x="268" y="840" textLength="252" lengthAdjust="spacingAndGlyphs" style="font-weight:bold;font-size:20px;fill:#444">Median House Price ($)</text>
<rect x="268" y="847" width="254" height="29" fill="#d8ecd4"/>
<rect x="268" y="879" width="254" height="29" fill="#a3da95"/>
<rect x="268" y="911" width="254" height="29" fill="#45bb44"/>
<rect x="268" y="943" width="254" height="30" fill="#17992c"/>
<rect x="268" y="976" width="254" height="29" fill="#137f25"/>
<rect x="268" y="1008" width="254" height="29" fill="#0c5b15"/>
<text class="lg" x="297" y="869" textLength="195" lengthAdjust="spacingAndGlyphs">Less than $150K</text>
<text class="lg" x="310" y="901" textLength="170" lengthAdjust="spacingAndGlyphs">$150K - $199K</text>
<text class="lg" x="302" y="933" textLength="185" lengthAdjust="spacingAndGlyphs">$200K - $249K</text>
<text class="lw" x="302" y="966" textLength="185" lengthAdjust="spacingAndGlyphs">$250K - $499K</text>
<text class="lw" x="302" y="998" textLength="187" lengthAdjust="spacingAndGlyphs">$500K - $999K</text>
<text class="lw" x="313" y="1030" textLength="165" lengthAdjust="spacingAndGlyphs">$1M and More</text>
</g>

<!-- sources -->
<text x="8" y="1053" textLength="147" lengthAdjust="spacingAndGlyphs" style="font-weight:bold;font-size:16px;fill:#111">Article &amp; Sources:</text>
<text x="8" y="1076" textLength="674" lengthAdjust="spacingAndGlyphs" style="font-size:16px;fill:#222">https://howmuch.net/articles/salary-needed-to-buy-a-house-in-largest-us-metros</text>
<text x="8" y="1097" textLength="257" lengthAdjust="spacingAndGlyphs" style="font-size:16px;fill:#222">HSH.com-https://www.hsh.com</text>

<!-- logo -->
<text x="1243" y="1092" textLength="110" lengthAdjust="spacingAndGlyphs" style="font-weight:bold;font-size:62px;fill:#2a2a2a">how</text>
<text x="1357" y="1092" textLength="173" lengthAdjust="spacingAndGlyphs" style="font-weight:bold;font-size:62px;fill:#8cc05b">much</text>
<text x="1555" y="1066" textLength="28" lengthAdjust="spacingAndGlyphs" style="font-weight:bold;font-size:15px;fill:#2a2a2a">net</text>
</svg>
</body></html>
